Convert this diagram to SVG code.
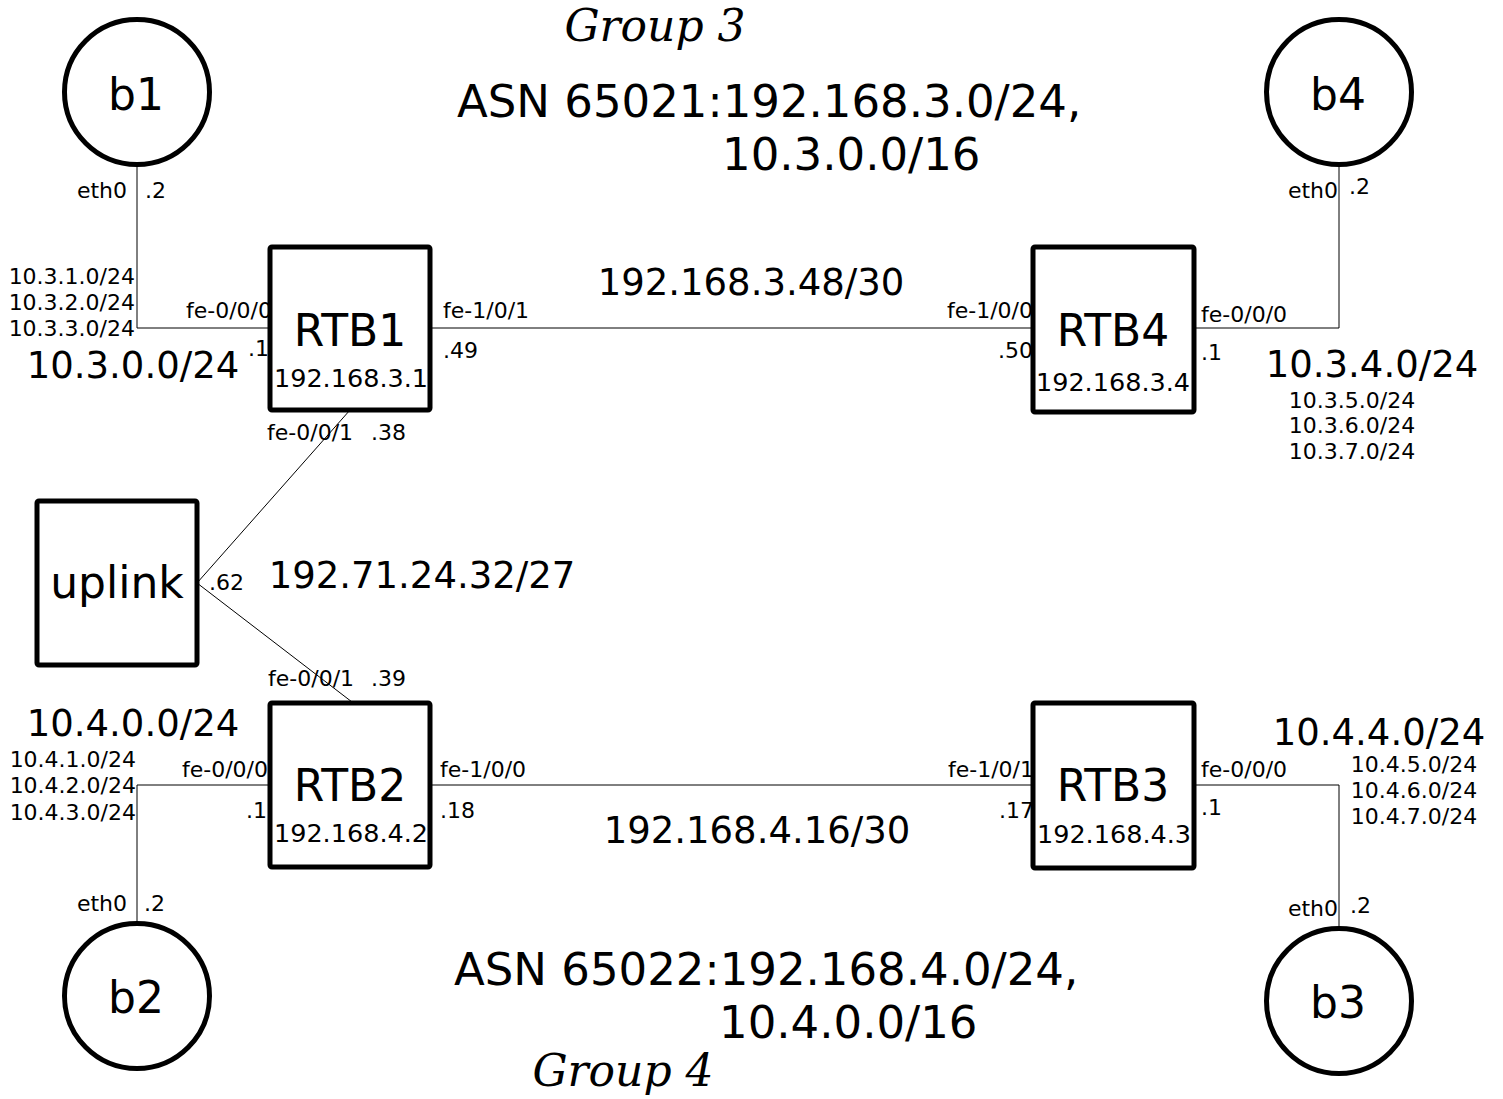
<svg xmlns="http://www.w3.org/2000/svg" width="1503" height="1099" viewBox="0 0 1503 1099">
<style>
text{font-family:"DejaVu Sans","Liberation Sans",sans-serif;fill:#000}
.sm{font-size:22px}
.ip{font-size:25.5px}
.net{font-size:37px}
.big{font-size:44px}
.asn{font-size:45px}
.grp{font-family:"DejaVu Serif","Liberation Serif",serif;font-style:italic;font-size:44px}
.e{stroke:#000;stroke-width:1;fill:none}
.node{fill:#fff;stroke:#000;stroke-width:5}
.m{text-anchor:middle}
.r{text-anchor:end}
</style>
<rect width="1503" height="1099" fill="#fff"/>
<g id="connectors">
<polyline class="e" points="137,165 137,328 270,328"/>
<line class="e" x1="430" y1="328" x2="1033" y2="328"/>
<polyline class="e" points="1194,328 1339,328 1339,165"/>
<polyline class="e" points="270,785 137,785 137,921"/>
<line class="e" x1="430" y1="785" x2="1033" y2="785"/>
<polyline class="e" points="1194,785 1339,785 1339,926"/>
<line class="e" x1="197" y1="583" x2="350" y2="410"/>
<line class="e" x1="197" y1="583" x2="352" y2="702"/>
<g id="edge-labels">
<text class="sm r" x="127" y="198">eth0</text>
<text class="sm" x="145" y="198">.2</text>
<text class="sm r" x="272" y="318">fe-0/0/0</text>
<text class="sm" x="248" y="356">.1</text>
<text class="sm" x="443" y="318">fe-1/0/1</text>
<text class="sm" x="443" y="358">.49</text>
<text class="sm r" x="1033" y="318">fe-1/0/0</text>
<text class="sm r" x="1033" y="358">.50</text>
<text class="sm" x="1201" y="322">fe-0/0/0</text>
<text class="sm" x="1201" y="360">.1</text>
<text class="sm r" x="1338" y="198">eth0</text>
<text class="sm" x="1349" y="194">.2</text>
<text class="sm" x="267" y="440">fe-0/0/1</text>
<text class="sm" x="371" y="440">.38</text>
<text class="sm" x="209" y="590">.62</text>
<text class="sm" x="268" y="686">fe-0/0/1</text>
<text class="sm" x="371" y="686">.39</text>
<text class="sm r" x="268" y="777">fe-0/0/0</text>
<text class="sm" x="246" y="818">.1</text>
<text class="sm" x="440" y="777">fe-1/0/0</text>
<text class="sm" x="440" y="818">.18</text>
<text class="sm r" x="1034" y="777">fe-1/0/1</text>
<text class="sm r" x="1034" y="818">.17</text>
<text class="sm" x="1201" y="777">fe-0/0/0</text>
<text class="sm" x="1201" y="815">.1</text>
<text class="sm r" x="127" y="911">eth0</text>
<text class="sm" x="144" y="911">.2</text>
<text class="sm r" x="1338" y="916">eth0</text>
<text class="sm" x="1350" y="913">.2</text>
</g>
</g>
<g id="labels">
<text class="grp m" x="655" y="41">Group 3</text>
<text class="asn" x="457" y="117">ASN 65021:192.168.3.0/24,</text>
<text class="asn" x="722" y="170">10.3.0.0/16</text>
<text class="net m" x="751" y="295">192.168.3.48/30</text>
<text class="sm r" x="135" y="284">10.3.1.0/24</text>
<text class="sm r" x="135" y="310">10.3.2.0/24</text>
<text class="sm r" x="135" y="336">10.3.3.0/24</text>
<text class="net m" x="133" y="378">10.3.0.0/24</text>
<text class="net m" x="1372" y="377">10.3.4.0/24</text>
<text class="sm m" x="1352" y="408">10.3.5.0/24</text>
<text class="sm m" x="1352" y="433">10.3.6.0/24</text>
<text class="sm m" x="1352" y="459">10.3.7.0/24</text>
<text class="net m" x="422" y="588">192.71.24.32/27</text>
<text class="net m" x="133" y="736">10.4.0.0/24</text>
<text class="sm r" x="136" y="767">10.4.1.0/24</text>
<text class="sm r" x="136" y="793">10.4.2.0/24</text>
<text class="sm r" x="136" y="820">10.4.3.0/24</text>
<text class="net m" x="1379" y="745">10.4.4.0/24</text>
<text class="sm m" x="1414" y="772">10.4.5.0/24</text>
<text class="sm m" x="1414" y="798">10.4.6.0/24</text>
<text class="sm m" x="1414" y="824">10.4.7.0/24</text>
<text class="net m" x="757" y="843">192.168.4.16/30</text>
<text class="asn" x="454" y="985">ASN 65022:192.168.4.0/24,</text>
<text class="asn" x="719" y="1038">10.4.0.0/16</text>
<text class="grp m" x="623" y="1086">Group 4</text>
</g>
<g id="b1"><circle class="node" cx="137" cy="92" r="72.5"/><text class="big m" x="136" y="110">b1</text></g>
<g id="b4"><circle class="node" cx="1339" cy="92" r="72.5"/><text class="big m" x="1338" y="110">b4</text></g>
<g id="b2"><circle class="node" cx="137" cy="996" r="72.5"/><text class="big m" x="136" y="1013">b2</text></g>
<g id="b3"><circle class="node" cx="1339" cy="1001" r="72.5"/><text class="big m" x="1338" y="1018">b3</text></g>
<g id="RTB1"><rect class="node" x="270" y="247" width="160" height="163" rx="2"/><text class="big m" x="350" y="346">RTB1</text><text class="ip m" x="351" y="387">192.168.3.1</text></g>
<g id="RTB4"><rect class="node" x="1033" y="247" width="161" height="165" rx="2"/><text class="big m" x="1113" y="346">RTB4</text><text class="ip m" x="1113" y="391">192.168.3.4</text></g>
<g id="RTB2"><rect class="node" x="270" y="703" width="160" height="164" rx="2"/><text class="big m" x="350" y="801">RTB2</text><text class="ip m" x="351" y="842">192.168.4.2</text></g>
<g id="RTB3"><rect class="node" x="1033" y="703" width="161" height="165" rx="2"/><text class="big m" x="1113" y="801">RTB3</text><text class="ip m" x="1114" y="843">192.168.4.3</text></g>
<g id="uplink"><rect class="node" x="37" y="501" width="160" height="164" rx="2"/><text class="big m" x="117" y="598">uplink</text></g>
</svg>
